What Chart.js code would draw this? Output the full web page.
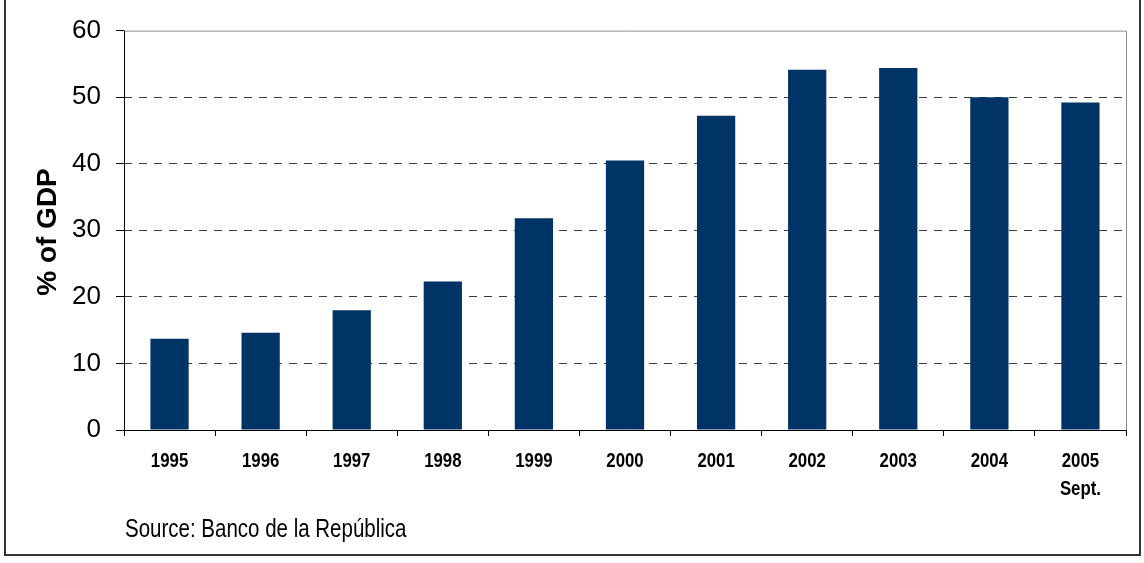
<!DOCTYPE html>
<html>
<head>
<meta charset="utf-8">
<script src="https://cdn.jsdelivr.net/npm/chart.js@4/dist/chart.umd.min.js"></script>
<style>
  html, body { margin: 0; padding: 0; background: #ffffff; }
  #wrap { width: 1144px; height: 563px; position: relative; }
</style>
</head>
<body>
<div id="wrap"><canvas id="chart" width="1144" height="563"></canvas></div>
<script>
// Public debt, % of GDP
const years = ['1995', '1996', '1997', '1998', '1999', '2000', '2001', '2002', '2003', '2004', ['2005', 'Sept.']];
const debtShare = [13.7, 14.6, 18.0, 22.3, 31.8, 40.5, 47.2, 54.1, 54.4, 50.0, 49.2];
const yTickValues = [0, 10, 20, 30, 40, 50, 60];
const axisTitle = '% of GDP';
const sourceNote = 'Source: Banco de la República';

const SANS = "'Liberation Sans', Arial, sans-serif";

// Draws text squeezed horizontally (condensed look)
function condensedText(ctx, text, x, y, squeeze, align) {
  ctx.save();
  ctx.translate(x, y);
  ctx.scale(squeeze, 1);
  ctx.textAlign = align;
  ctx.fillText(text, 0, 0);
  ctx.restore();
}

// Plot frame, category labels, axis title, source note and outer box
const decorations = {
  id: 'decorations',
  afterDatasetsDraw(chart) {
    const { ctx, chartArea: a } = chart;
    ctx.save();
    ctx.lineWidth = 1;
    // top and right edges of the plot area
    ctx.strokeStyle = '#8a8a8a';
    ctx.beginPath();
    ctx.moveTo(a.left, a.top + 0.5);
    ctx.lineTo(a.right + 0.5, a.top + 0.5);
    ctx.lineTo(a.right + 0.5, a.bottom);
    ctx.stroke();
    // value axis and category axis
    ctx.strokeStyle = '#000000';
    ctx.beginPath();
    ctx.moveTo(a.left + 0.5, a.top);
    ctx.lineTo(a.left + 0.5, a.bottom + 0.5);
    ctx.lineTo(a.right + 1, a.bottom + 0.5);
    ctx.stroke();
    ctx.restore();
  },
  afterDraw(chart) {
    const { ctx } = chart;
    const xs = chart.scales.x;

    // category labels under the axis, one or two lines each
    ctx.save();
    ctx.font = 'bold 21px ' + SANS;
    ctx.fillStyle = '#000000';
    ctx.textBaseline = 'alphabetic';
    years.forEach((lab, i) => {
      const cx = xs.getPixelForValue(i);
      const lines = Array.isArray(lab) ? lab : [lab];
      lines.forEach((t, k) => condensedText(ctx, t, cx, 467 + k * 28, 0.8, 'center'));
    });
    ctx.restore();

    // vertical axis title
    ctx.save();
    ctx.translate(48, 232);
    ctx.rotate(-Math.PI / 2);
    ctx.font = 'bold 28px ' + SANS;
    ctx.fillStyle = '#000000';
    ctx.textAlign = 'center';
    ctx.textBaseline = 'middle';
    ctx.fillText(axisTitle, 0, 0);
    ctx.restore();

    // source note
    ctx.save();
    ctx.font = '25px ' + SANS;
    ctx.fillStyle = '#000000';
    ctx.textBaseline = 'alphabetic';
    condensedText(ctx, sourceNote, 125, 537, 0.82, 'left');
    // outer box
    ctx.strokeStyle = '#333333';
    ctx.lineWidth = 2;
    ctx.strokeRect(5, -2, 1135, 557);
    ctx.restore();
  }
};

new Chart(document.getElementById('chart'), {
  type: 'bar',
  data: {
    labels: years,
    datasets: [{
      data: debtShare,
      backgroundColor: '#003366',
      borderWidth: 0,
      categoryPercentage: 1.0,
      barPercentage: 0.42
    }]
  },
  options: {
    responsive: false,
    animation: false,
    devicePixelRatio: 1,
    layout: { padding: { top: 27, right: 18, left: 0, bottom: 0 } },
    plugins: {
      legend: { display: false },
      tooltip: { enabled: false }
    },
    scales: {
      x: {
        type: 'category',
        offset: true,
        afterFit(scale) { scale.height = 133; },
        grid: {
          offset: true,
          drawOnChartArea: false,
          drawTicks: true,
          tickLength: 6,
          tickColor: '#000000',
          color: '#000000'
        },
        border: { display: false },
        ticks: { display: false, autoSkip: false, maxRotation: 0 }
      },
      y: {
        min: 0,
        max: 60,
        afterFit(scale) { scale.width = 124; },
        afterBuildTicks(scale) { scale.ticks = yTickValues.map(v => ({ value: v })); },
        grid: {
          color: (c) => (c.tick && (c.tick.value === 0 || c.tick.value === 60)) ? 'rgba(0,0,0,0)' : '#3c3c3c',
          lineWidth: 1,
          drawTicks: true,
          tickLength: 8,
          tickColor: '#000000'
        },
        border: { display: false, dash: [8, 7] },
        ticks: {
          color: '#000000',
          font: { family: SANS, size: 26 },
          padding: 15
        }
      }
    }
  },
  plugins: [decorations]
});
</script>
</body>
</html>
